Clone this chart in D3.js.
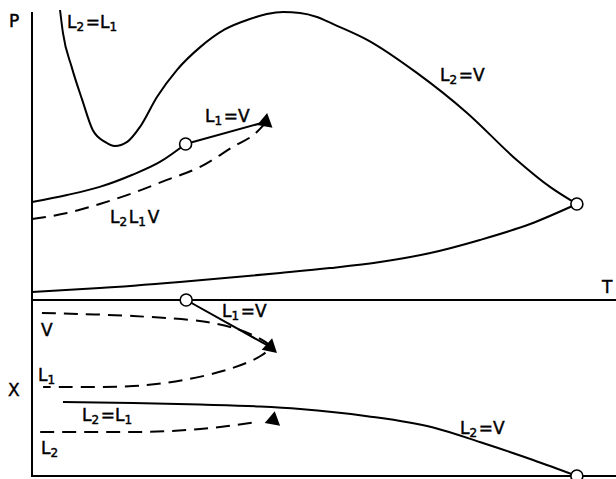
<!DOCTYPE html>
<html>
<head>
<meta charset="utf-8">
<script src="https://cdn.jsdelivr.net/npm/d3@7"></script>
<style>
  html, body { margin: 0; padding: 0; background: #fff; }
  svg { display: block; }
  text { font-family: "DejaVu Sans", sans-serif; font-size: 17px; fill: #000; stroke: #000; stroke-width: 0.45px; }
</style>
</head>
<body>
<svg id="chart" width="616" height="479"></svg>
<script>
// ---- P–T projection (temperature T, pressure P) ----
// Three-phase line L2 = L1 continuing into the L2 = V critical curve
const ptL2L1toL2V = [
  [4.8, 100], [5.3, 92.1], [6.8, 80.3], [8.6, 69.0], [10.4, 58.6], [12.5, 54.5],
  [14.2, 53.1], [16.3, 54.5], [18.5, 59.7], [21.4, 70.0], [24.8, 79.3], [28.8, 87.2],
  [33.0, 93.3], [37.3, 96.9], [40.2, 98.6], [43.0, 99.3], [45.9, 99.0], [48.8, 97.6],
  [51.5, 95.2], [57.4, 89.7], [65.9, 78.3], [74.5, 64.5], [83.0, 48.3], [88.7, 39.0], [93.3, 33.1]
];
// Vapour-pressure curve up to the lower critical end point
const ptVapour = [[0, 33.8], [6.0, 36.2], [11.6, 39.0], [17.1, 43.1], [21.9, 47.6], [26.3, 53.8]];
// L1 = V critical line from the critical end point to the tricritical point
const ptL1V = [[26.3, 53.8], [40.0, 61.4]];
// Three-phase L2 L1 V line (dashed)
const ptL2L1V = [[0, 27.9], [6.0, 30.0], [11.6, 33.1], [17.3, 36.9], [23.1, 41.4],
                 [28.8, 45.9], [34.4, 52.8], [38.5, 57.9], [39.6, 60.2]];
// Lower vapour-pressure curve rising to the upper critical end point
const ptLower = [[0, 2.8], [11.6, 4.1], [25.3, 6.2], [42.5, 9.3], [51.0, 11.0], [59.6, 13.1],
                 [68.2, 16.2], [76.7, 20.7], [85.3, 26.2], [93.3, 33.1]];
const ptCircles = [[26.3, 53.8], [93.3, 33.1]];
const ptTriangles = [[40.0, 61.4]];

// ---- T–X projection (composition X) ----
const txL1V = [[26.4, 1.0], [40.8, 0.733]];
// Coexisting V and L1 compositions on the three-phase line (dashed loop)
const txVL1 = [
  [1.7, 0.926], [17.3, 0.909], [29.95, 0.875], [35.6, 0.830], [39.4, 0.773], [40.75, 0.733],
  [39.4, 0.6875], [34.4, 0.614], [25.9, 0.545], [17.3, 0.511], [1.9, 0.506]
];
// L2 composition on the three-phase line (dashed)
const txL2 = [[1.4, 0.25], [17.3, 0.25], [28.8, 0.267], [38.5, 0.307]];
// L2 = L1 / L2 = V critical line
const txCrit = [[5.3, 0.420], [17.3, 0.415], [28.8, 0.406], [39.0, 0.395], [45.9, 0.381],
                [57.4, 0.340], [68.7, 0.276], [77.2, 0.1875], [85.8, 0.091], [93.3, 0.0]];
const txCircles = [[26.4, 1.0], [93.3, 0.0]];
const txTriangles = [[40.8, 0.733, 12], [41.3, 0.318, 0]];

// ---- scales ----
const x = d3.scaleLinear().domain([0, 100]).range([32, 616]);
const yP = d3.scaleLinear().domain([0, 100]).range([300, 10]);
const yX = d3.scaleLinear().domain([0, 1]).range([476, 300]);

const svg = d3.select("#chart");

// frame: shared T axis between the two panels, left axis and bottom line
const frame = svg.append("g").attr("stroke", "#000").attr("stroke-width", 2);
frame.append("line").attr("x1", x(0)).attr("x2", x(0)).attr("y1", 12).attr("y2", yX(0) + 1);
frame.append("line").attr("x1", x(0)).attr("x2", x(100)).attr("y1", yP(0)).attr("y2", yP(0));
frame.append("line").attr("x1", x(0)).attr("x2", x(100)).attr("y1", yX(0)).attr("y2", yX(0));

const lineP = d3.line().x(d => x(d[0])).y(d => yP(d[1])).curve(d3.curveMonotoneX);
const lineX = d3.line().x(d => x(d[0])).y(d => yX(d[1])).curve(d3.curveMonotoneX);
const loopX = d3.line().x(d => x(d[0])).y(d => yX(d[1])).curve(d3.curveCatmullRom.alpha(0.5));

function draw(gen, data, dashed) {
  svg.append("path").datum(data).attr("d", gen)
    .attr("fill", "none").attr("stroke", "#000").attr("stroke-width", 2)
    .attr("stroke-linecap", "butt")
    .attr("stroke-dasharray", dashed ? "14,8" : null);
}

draw(lineP, ptL2L1toL2V, false);
draw(lineP, ptVapour, false);
draw(lineP, ptL1V, false);
draw(lineP, ptL2L1V, true);
draw(lineP, ptLower, false);

draw(lineX, txL1V, false);
draw(loopX, txVL1, true);
draw(lineX, txL2, true);
draw(lineX, txCrit, false);

const tri = d3.symbol().type(d3.symbolTriangle).size(105);
function triangles(data, yScale) {
  svg.append("g").selectAll("path").data(data).join("path")
    .attr("d", tri)
    .attr("transform", d => `translate(${x(d[0])},${yScale(d[1])}) rotate(${d[2] || 10})`)
    .attr("fill", "#000");
}
function circles(data, yScale) {
  svg.append("g").selectAll("circle").data(data).join("circle")
    .attr("cx", d => x(d[0])).attr("cy", d => yScale(d[1])).attr("r", 6)
    .attr("fill", "#fff").attr("stroke", "#000").attr("stroke-width", 1.6);
}
triangles(ptTriangles, yP);
triangles(txTriangles, yX);
circles(ptCircles, yP);
circles(txCircles, yX);

// labels with subscripts
function label(px, py, parts) {
  const t = svg.append("text").attr("x", px).attr("y", py);
  parts.forEach(p => {
    if (typeof p === "string") {
      t.append("tspan").text(p);
    } else {
      t.append("tspan").attr("dy", 3).attr("font-size", 12).text(p.sub);
      t.append("tspan").attr("dy", -3).text("\u200a");
    }
  });
  return t;
}
label(9, 27, ["P"]);
label(602, 293, ["T"]);
label(8, 396, ["X"]);

label(67, 28, ["L", {sub: "2"}, "=L", {sub: "1"}]);
label(440, 81, ["L", {sub: "2"}, "=V"]);
label(205, 122, ["L", {sub: "1"}, "=V"]);
label(110, 223, ["L", {sub: "2"}, "L", {sub: "1"}, "V"]);

label(222, 317, ["L", {sub: "1"}, "=V"]);
label(41, 336, ["V"]);
label(38, 381, ["L", {sub: "1"}]);
label(82, 421, ["L", {sub: "2"}, "=L", {sub: "1"}]);
label(41, 454, ["L", {sub: "2"}]);
label(460, 434, ["L", {sub: "2"}, "=V"]);
</script>
</body>
</html>
